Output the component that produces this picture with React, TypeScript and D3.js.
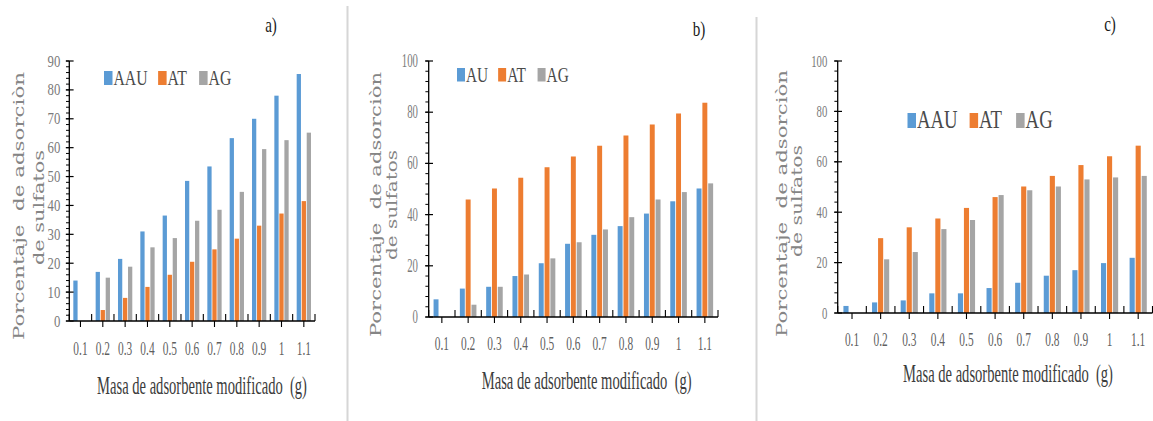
import React from "react";
import * as d3 from "d3";

// ---------------- data ----------------
const categories = ["0.1", "0.2", "0.3", "0.4", "0.5", "0.6", "0.7", "0.8", "0.9", "1", "1.1"];

const seriesNamesA = ["AAU", "AT", "AG"];
const aAAU = [14, 17, 21.5, 31, 36.5, 48.5, 53.5, 63.3, 70, 78, 85.5];
const aAT = [0, 3.8, 8, 11.8, 16, 20.5, 24.8, 28.5, 33, 37.2, 41.5];
const aAG = [0, 15, 18.8, 25.5, 28.7, 34.7, 38.5, 44.7, 59.5, 62.6, 65.2];

const seriesNamesB = ["AU", "AT", "AG"];
const bAU = [6.9, 11.1, 11.8, 16, 21, 28.6, 32.1, 35.5, 40.4, 45.2, 50.2];
const bAT = [0, 45.9, 50.2, 54.4, 58.5, 62.7, 66.9, 70.9, 75.2, 79.5, 83.7];
const bAG = [0, 4.8, 11.8, 16.6, 22.9, 29.2, 34.2, 39, 45.9, 48.8, 52.2];

const seriesNamesC = ["AAU", "AT", "AG"];
const cAAU = [2.8, 4.2, 5, 7.8, 7.8, 9.9, 12, 14.8, 17, 19.8, 21.9];
const cAT = [0, 29.7, 34, 37.5, 41.7, 46, 50.2, 54.4, 58.7, 62.2, 66.4];
const cAG = [0, 21.3, 24.2, 33.3, 36.9, 46.8, 48.7, 50.2, 53, 53.8, 54.4];

const yTicksA = [0, 10, 20, 30, 40, 50, 60, 70, 80, 90];
const yTicksBC = [0, 20, 40, 60, 80, 100];

const panelLabels = ["a)", "b)", "c)"];
const xTitle = "Masa de adsorbente modificado  (g)";
const yTitleLine1 = "Porcentaje  de adsorciòn";
const yTitleLine2 = "de sulfatos";

// ---------------- styles / layout ----------------
const colors = ["#5B9BD5", "#ED7D31", "#A5A5A5"];
const SERIF = "'Liberation Serif', 'Times New Roman', serif";
const YSERIF = "'DejaVu Serif', serif";

// Times glyph widths (em) for legend layout
const glyphW: Record<string, number> = { A: 0.722, U: 0.722, T: 0.611, G: 0.722 };
const textW = (s: string, fs: number) =>
  s.split("").reduce((acc, ch) => acc + (glyphW[ch] ?? 0.6), 0) * fs;

// natural width of x title at 25px Times ~ 360px
const TITLE_FS = 25;
const TITLE_NATURAL = 14.413 * TITLE_FS;

type Cfg = {
  x0: number; x1: number; yTop: number; yBase: number; yMax: number; yTicks: number[];
  group: number;
  yTickFs: number; yTickSx: number; yTickGap: number;
  xLabFs: number; xLabSx: number; xLabY: number;
  titleCx: number; titleY: number; titleLen: number;
  yl1x: number; yl1c: number; yl1len: number;
  yl2x: number; yl2c: number; yl2len: number;
  labX: number; labY: number;
  legX: number; legY: number; legFs: number; legSx: number; legGap: number; sqW: number; sqH: number;
};

const layoutA: Cfg = {
  x0: 69.3, x1: 315, yTop: 61, yBase: 321, yMax: 90, yTicks: yTicksA, group: 0.64,
  yTickFs: 17, yTickSx: 0.75, yTickGap: 9,
  xLabFs: 19, xLabSx: 0.6, xLabY: 355,
  titleCx: 202, titleY: 394, titleLen: 210,
  yl1x: 23.5, yl1c: 206, yl1len: 268, yl2x: 44, yl2c: 207.5, yl2len: 115,
  labX: 271, labY: 32,
  legX: 104, legY: 85, legFs: 21, legSx: 0.75, legGap: 10.5, sqW: 8.5, sqH: 14,
};
const layoutB: Cfg = {
  x0: 428.7, x1: 718, yTop: 61, yBase: 317, yMax: 100, yTicks: yTicksBC, group: 0.63,
  yTickFs: 18, yTickSx: 0.6, yTickGap: 10.7,
  xLabFs: 19, xLabSx: 0.6, xLabY: 350,
  titleCx: 586.7, titleY: 389, titleLen: 210,
  yl1x: 381, yl1c: 204.5, yl1len: 265, yl2x: 396.5, yl2c: 205, yl2len: 110,
  labX: 699, labY: 36,
  legX: 457, legY: 81.5, legFs: 21, legSx: 0.73, legGap: 10, sqW: 8, sqH: 13.5,
};
const layoutC: Cfg = {
  x0: 837.7, x1: 1152.5, yTop: 61, yBase: 313, yMax: 100, yTicks: yTicksBC, group: 0.6,
  yTickFs: 17, yTickSx: 0.63, yTickGap: 10.4,
  xLabFs: 19, xLabSx: 0.6, xLabY: 346,
  titleCx: 1008, titleY: 382, titleLen: 210,
  yl1x: 787, yl1c: 203.5, yl1len: 267, yl2x: 802, yl2c: 201, yl2len: 112,
  labX: 1110, labY: 31,
  legX: 907.5, legY: 128, legFs: 25, legSx: 0.75, legGap: 12, sqW: 8.5, sqH: 15,
};

function Panel({ cfg, names, series, label }: { cfg: Cfg; names: string[]; series: number[][]; label: string }) {
  const x = d3.scaleBand<string>().domain(categories).range([cfg.x0, cfg.x1]).padding(0);
  const y = d3.scaleLinear().domain([0, cfg.yMax]).range([cfg.yBase, cfg.yTop]);
  const bw = x.bandwidth();
  const half = (bw * cfg.group) / 2;
  const inner = d3.scaleBand<string>().domain(names).range([-half, half]).paddingInner(0.15);
  const step = cfg.yTicks[1] - cfg.yTicks[0];
  const minor = d3.range(0, cfg.yMax + 1e-6, step / 5);

  // legend layout
  let lx = cfg.legX;
  const legItems = names.map((n, i) => {
    const sqX = lx;
    const tx = sqX + cfg.sqW + 1;
    const tw = textW(n, cfg.legFs) * cfg.legSx;
    lx = tx + tw + cfg.legGap;
    return { n, i, sqX, tx };
  });

  return (
    <g>
      {/* bars */}
      {categories.map((c, ci) => (
        <g key={c}>
          {names.map((n, si) => {
            const v = series[si][ci];
            if (!v) return null;
            const cx = (x(c) as number) + bw / 2;
            return (
              <rect
                key={n}
                x={cx + (inner(n) as number)}
                y={y(v)}
                width={inner.bandwidth()}
                height={y(0) - y(v)}
                fill={colors[si]}
              />
            );
          })}
        </g>
      ))}

      {/* y axis */}
      <line x1={cfg.x0} x2={cfg.x0} y1={y(cfg.yMax)} y2={y(0)} stroke="#000" strokeWidth={1.3} />
      {minor.map((m) => (
        <line key={"m" + m} x1={cfg.x0 - 3.3} x2={cfg.x0} y1={y(m)} y2={y(m)} stroke="#000" strokeWidth={1} />
      ))}
      {cfg.yTicks.map((t) => (
        <g key={"t" + t}>
          <line x1={cfg.x0 - 3.5} x2={cfg.x0 + 4.3} y1={y(t)} y2={y(t)} stroke="#000" strokeWidth={1.2} />
          <text
            transform={`translate(${cfg.x0 - cfg.yTickGap},${y(t) + cfg.yTickFs * 0.33}) scale(${cfg.yTickSx},1)`}
            textAnchor="end"
            fontFamily={SERIF}
            fontSize={cfg.yTickFs}
            fill="#7a7a7a"
          >
            {t}
          </text>
        </g>
      ))}

      {/* x axis */}
      <line x1={cfg.x0} x2={cfg.x1} y1={y(0)} y2={y(0)} stroke="#000" strokeWidth={1.3} />
      {d3.range(categories.length + 1).map((k) => {
        const bx = cfg.x0 + k * bw;
        return <line key={"b" + k} x1={bx} x2={bx} y1={y(0) - 7} y2={y(0)} stroke="#000" strokeWidth={1.1} />;
      })}
      {categories.map((c) => {
        const cx = (x(c) as number) + bw / 2;
        return (
          <g key={"x" + c}>
            <line x1={cx} x2={cx} y1={y(0)} y2={y(0) + 6} stroke="#000" strokeWidth={1.1} />
            <text
              transform={`translate(${cx},${cfg.xLabY}) scale(${cfg.xLabSx},1)`}
              textAnchor="middle"
              fontFamily={SERIF}
              fontSize={cfg.xLabFs}
              fill="#5f5f5f"
            >
              {c}
            </text>
          </g>
        );
      })}

      {/* x title */}
      <text
        transform={`translate(${cfg.titleCx},${cfg.titleY}) scale(${cfg.titleLen / TITLE_NATURAL},1)`}
        textAnchor="middle"
        fontFamily={SERIF}
        fontSize={TITLE_FS}
        fill="#3c3c3c"
        style={{ whiteSpace: "pre" }}
      >
        {xTitle}
      </text>

      {/* y title */}
      <text
        transform={`translate(${cfg.yl1x},${cfg.yl1c}) rotate(-90)`}
        textAnchor="middle"
        fontFamily={YSERIF}
        fontSize={14.5}
        fill="#858585"
        textLength={cfg.yl1len}
        lengthAdjust="spacingAndGlyphs"
        style={{ whiteSpace: "pre" }}
      >
        {yTitleLine1}
      </text>
      <text
        transform={`translate(${cfg.yl2x},${cfg.yl2c}) rotate(-90)`}
        textAnchor="middle"
        fontFamily={YSERIF}
        fontSize={14.5}
        fill="#858585"
        textLength={cfg.yl2len}
        lengthAdjust="spacingAndGlyphs"
      >
        {yTitleLine2}
      </text>

      {/* panel label */}
      <text
        transform={`translate(${cfg.labX},${cfg.labY}) scale(0.72,1)`}
        textAnchor="middle"
        fontFamily={SERIF}
        fontSize={21}
        fill="#1a1a1a"
      >
        {label}
      </text>

      {/* legend */}
      {legItems.map((it) => (
        <g key={"l" + it.n}>
          <rect x={it.sqX} y={cfg.legY - cfg.sqH} width={cfg.sqW} height={cfg.sqH} fill={colors[it.i]} />
          <text
            transform={`translate(${it.tx},${cfg.legY}) scale(${cfg.legSx},1)`}
            fontFamily={SERIF}
            fontSize={cfg.legFs}
            fill="#4a4a4a"
          >
            {it.n}
          </text>
        </g>
      ))}
    </g>
  );
}

export default function App() {
  return (
    <svg
      width={1153}
      height={421}
      viewBox="0 0 1153 421"
      style={{ position: "absolute", left: 0, top: 0, background: "#fff", display: "block" }}
    >
      <rect x={0} y={0} width={1153} height={421} fill="#fff" />
      <line x1={347.5} x2={347.5} y1={6} y2={421} stroke="#d6d6d6" strokeWidth={2} />
      <line x1={756.5} x2={756.5} y1={17} y2={421} stroke="#d6d6d6" strokeWidth={2} />
      <Panel cfg={layoutA} names={seriesNamesA} series={[aAAU, aAT, aAG]} label={panelLabels[0]} />
      <Panel cfg={layoutB} names={seriesNamesB} series={[bAU, bAT, bAG]} label={panelLabels[1]} />
      <Panel cfg={layoutC} names={seriesNamesC} series={[cAAU, cAT, cAG]} label={panelLabels[2]} />
    </svg>
  );
}
